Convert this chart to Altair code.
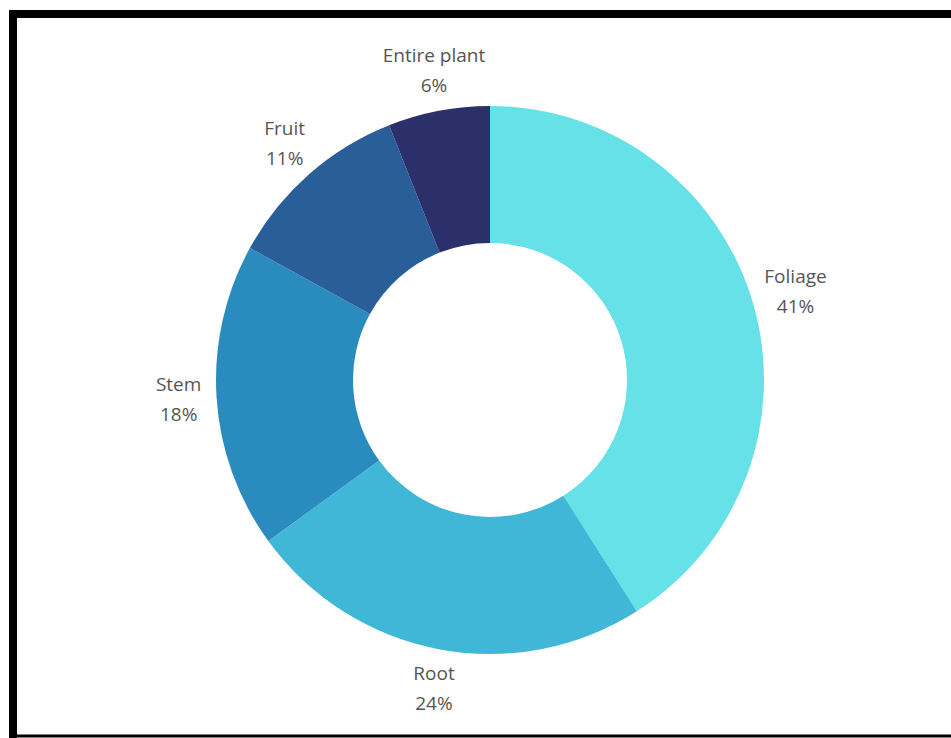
import altair as alt
import pandas as pd

categories = ["Foliage", "Root", "Stem", "Fruit", "Entire plant"]
values = [41, 24, 18, 11, 6]
colors = ["#66E1E8", "#40B7D6", "#2A8BBF", "#2A5E99", "#2C306A"]

df = pd.DataFrame({
    "category": categories,
    "value": values,
    "order": list(range(len(categories))),
})

base = alt.Chart(df).encode(
    theta=alt.Theta("value:Q", stack=True),
    order=alt.Order("order:Q"),
    x=alt.value(490),
    y=alt.value(380),
)

arcs = base.mark_arc(outerRadius=274, innerRadius=137).encode(
    color=alt.Color("category:N", scale=alt.Scale(domain=categories, range=colors), legend=None)
)

labels = base.transform_calculate(
    label="datum.category + '\\n' + datum.value + '%'"
).mark_text(
    radius=315, font="Open Sans", fontSize=19, color="#555555",
    lineBreak="\n", lineHeight=30, align="center", baseline="middle",
    dx=3, dy=-15
).encode(text="label:N")

border = alt.Chart(pd.DataFrame({"k": [0]}))
left = border.mark_rule(color="black", strokeWidth=8).encode(
    x=alt.value(13), y=alt.value(10), y2=alt.value(738))
top = border.mark_rule(color="black", strokeWidth=8).encode(
    x=alt.value(9), x2=alt.value(951), y=alt.value(14))
bottom = border.mark_rule(color="black", strokeWidth=3).encode(
    x=alt.value(9), x2=alt.value(951), y=alt.value(736))

chart = alt.layer(arcs, labels, left, top, bottom).properties(
    width=951, height=738,
    autosize=alt.AutoSizeParams(type="none"),
    padding=0,
    background="white",
).configure_view(stroke=None)

chart.save("out.html", embed_options={"renderer": "svg", "actions": False})
